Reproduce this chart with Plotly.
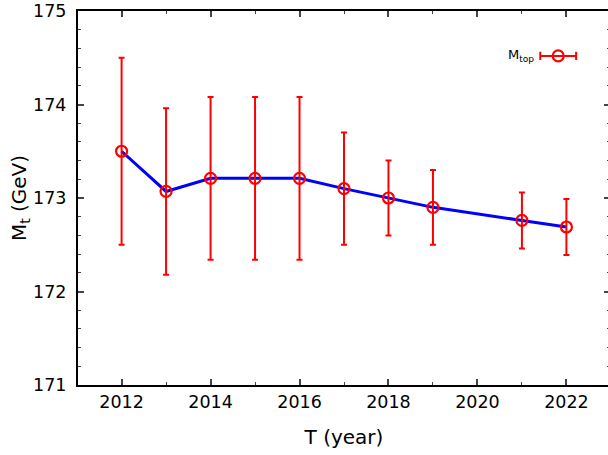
import plotly.graph_objects as go

years = [2012, 2013, 2014, 2015, 2016, 2017, 2018, 2019, 2021, 2022]
mtop = [173.50, 173.07, 173.21, 173.21, 173.21, 173.10, 173.00, 172.90, 172.76, 172.69]
err = [1.00, 0.89, 0.87, 0.87, 0.87, 0.60, 0.40, 0.40, 0.30, 0.30]

FONT = "DejaVu Sans"
W = 612          # figure slightly wider than the window: right frame edge falls just outside, as in the original
PW = W - 78      # plot-area width

fig = go.Figure()
fig.add_trace(go.Scatter(
    x=years, y=mtop, mode="lines",
    line=dict(color="#0000ff", width=3), showlegend=False, hoverinfo="skip"))
fig.add_trace(go.Scatter(
    x=years, y=mtop, mode="markers", name="M<sub>top</sub>",
    marker=dict(symbol="circle-open", size=11, color="#ff0000", line=dict(width=2.2, color="#ff0000")),
    error_y=dict(type="data", array=err, visible=True, color="#ff0000", thickness=2, width=3),
    showlegend=False))

# legend key (text left of sample, as in the original); pixel positions converted to paper fractions
def px(xp):
    return (xp - 78) / PW

ly = 0.88
fig.add_annotation(xref="paper", yref="paper", x=px(538), y=ly, text="M<sub>top</sub>",
                   showarrow=False, xanchor="right", yanchor="middle",
                   font=dict(family=FONT, size=13, color="black"))
lx0, lx1 = px(542), px(578)
fig.add_shape(type="line", xref="paper", yref="paper", x0=lx0, x1=lx1, y0=ly, y1=ly,
              line=dict(color="#ff0000", width=2))
for xx in (lx0, lx1):
    fig.add_shape(type="line", xref="paper", yref="paper", x0=xx, x1=xx, y0=ly - 0.011, y1=ly + 0.011,
                  line=dict(color="#ff0000", width=2))
cx, rx, ry = (lx0 + lx1) / 2, 5.5 / PW, 0.0147
fig.add_shape(type="circle", xref="paper", yref="paper", x0=cx - rx, x1=cx + rx, y0=ly - ry, y1=ly + ry,
              line=dict(color="#ff0000", width=2.2), fillcolor="rgba(0,0,0,0)")

fig.update_layout(
    width=W, height=455,
    margin=dict(l=78, r=0, t=11, b=70),
    plot_bgcolor="white", paper_bgcolor="white",
    font=dict(family=FONT, size=17, color="black"),
    xaxis=dict(range=[2011.02, 2022.98], dtick=2, tick0=2012, ticks="inside", ticklen=6, tickwidth=1.5,
               showline=True, linecolor="black", linewidth=2, mirror="ticks", showgrid=False,
               zeroline=False, tickfont=dict(family=FONT, size=17.5), ticklabelstandoff=0,
               minor=dict(dtick=1, ticks="inside", ticklen=3, tickwidth=1.2, showgrid=False),
               title=dict(text="T (year)", font=dict(family=FONT, size=20), standoff=19)),
    yaxis=dict(range=[171, 175], dtick=1, ticks="inside", ticklen=6, tickwidth=1.5,
               showline=True, linecolor="black", linewidth=2, mirror="ticks", showgrid=False,
               zeroline=False, tickfont=dict(family=FONT, size=17.5), ticklabelstandoff=6,
               minor=dict(dtick=0.2, ticks="inside", ticklen=3, tickwidth=1.2, showgrid=False),
               title=dict(text="M<sub>t</sub> (GeV)", font=dict(family=FONT, size=20), standoff=1)),
)

fig.write_html("out.html", config={"displayModeBar": False},
               post_script="document.body.style.margin='0';document.body.style.overflow='hidden';")
